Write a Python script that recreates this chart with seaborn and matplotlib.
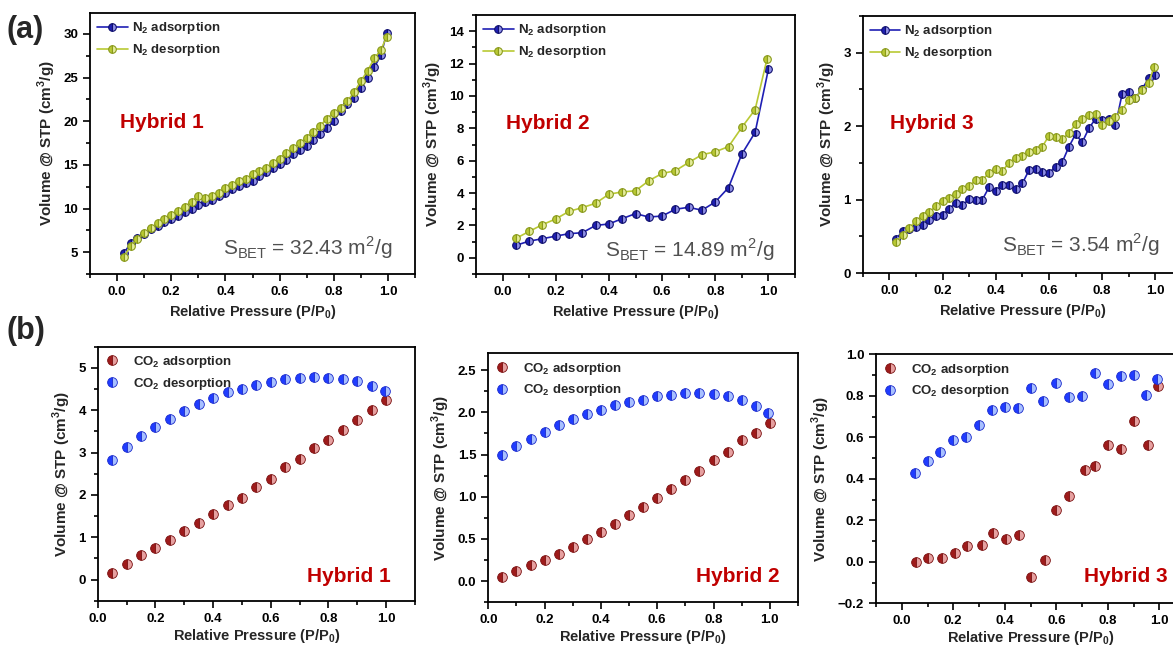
import numpy as np
import pandas as pd
import seaborn as sns
import matplotlib.pyplot as plt
from matplotlib.ticker import MultipleLocator

# ---- data ----
# (a) N2 isotherms
p_h1 = [0.025, 0.05, 0.075, 0.10, 0.125, 0.15, 0.175, 0.20, 0.225, 0.25,
        0.275, 0.30, 0.325, 0.35, 0.375, 0.40, 0.425, 0.45, 0.475, 0.50,
        0.525, 0.55, 0.575, 0.60, 0.625, 0.65, 0.675, 0.70, 0.725, 0.75,
        0.775, 0.80, 0.825, 0.85, 0.875, 0.90, 0.925, 0.95, 0.975, 0.995]
n2_ads_h1 = [4.9, 6.0, 6.6, 7.1, 7.6, 8.0, 8.4, 8.8, 9.2, 9.6,
             10.0, 10.4, 10.7, 11.0, 11.4, 11.8, 12.2, 12.6, 12.9, 13.2,
             13.7, 14.2, 14.6, 15.1, 15.6, 16.2, 16.7, 17.2, 17.9, 18.5,
             19.2, 20.0, 21.2, 22.0, 22.7, 23.8, 25.0, 26.2, 27.6, 30.1]
n2_des_h1 = [4.5, 5.7, 6.5, 7.2, 7.8, 8.3, 8.8, 9.3, 9.7, 10.2,
             10.8, 11.4, 11.2, 11.4, 11.8, 12.3, 12.7, 13.1, 13.4, 13.9,
             14.3, 14.7, 15.2, 15.7, 16.4, 16.9, 17.5, 18.1, 18.8, 19.5,
             20.3, 21.0, 21.5, 22.3, 23.3, 24.6, 25.8, 27.2, 28.2, 29.7]

p_h2_ads = [0.05, 0.10, 0.15, 0.20, 0.25, 0.30, 0.35, 0.40, 0.45, 0.50,
            0.55, 0.60, 0.65, 0.70, 0.75, 0.80, 0.85, 0.90, 0.95, 1.0]
n2_ads_h2 = [0.77, 1.03, 1.18, 1.34, 1.49, 1.55, 2.0, 2.09, 2.42, 2.73,
             2.52, 2.58, 3.0, 3.12, 2.94, 3.45, 4.34, 6.41, 7.75, 11.66]
p_h2_des = [0.05, 0.10, 0.15, 0.20, 0.25, 0.30, 0.35, 0.40, 0.45, 0.50,
            0.55, 0.60, 0.65, 0.70, 0.75, 0.80, 0.85, 0.90, 0.95, 0.995]
n2_des_h2 = [1.2, 1.63, 2.05, 2.4, 2.87, 3.1, 3.37, 3.93, 4.07, 4.14,
             4.76, 5.21, 5.38, 5.89, 6.37, 6.55, 6.87, 8.06, 9.16, 12.3]

p_h3_ads = [0.025, 0.05, 0.075, 0.10, 0.125, 0.15, 0.175, 0.20, 0.225, 0.25,
            0.275, 0.30, 0.325, 0.35, 0.375, 0.40, 0.425, 0.45, 0.475, 0.50,
            0.525, 0.55, 0.575, 0.60, 0.625, 0.65, 0.675, 0.70, 0.725, 0.75,
            0.775, 0.80, 0.825, 0.85, 0.875, 0.90, 0.925, 0.95, 0.975, 1.0]
n2_ads_h3 = [0.46, 0.57, 0.60, 0.62, 0.66, 0.72, 0.77, 0.79, 0.87, 0.96,
             0.92, 1.01, 1.0, 1.0, 1.17, 1.12, 1.20, 1.20, 1.14, 1.22,
             1.40, 1.42, 1.37, 1.36, 1.45, 1.51, 1.72, 1.89, 1.78, 1.97,
             2.10, 2.09, 2.10, 2.01, 2.44, 2.46, 2.38, 2.51, 2.65, 2.69]
p_h3_des = [0.025, 0.05, 0.075, 0.10, 0.125, 0.15, 0.175, 0.20, 0.225, 0.25,
            0.275, 0.30, 0.325, 0.35, 0.375, 0.40, 0.425, 0.45, 0.475, 0.50,
            0.525, 0.55, 0.575, 0.60, 0.625, 0.65, 0.675, 0.70, 0.725, 0.75,
            0.775, 0.80, 0.825, 0.85, 0.875, 0.90, 0.925, 0.95, 0.975, 0.995]
n2_des_h3 = [0.42, 0.52, 0.61, 0.71, 0.78, 0.83, 0.91, 0.98, 1.02, 1.08,
             1.15, 1.19, 1.26, 1.27, 1.36, 1.41, 1.39, 1.50, 1.57, 1.59,
             1.65, 1.68, 1.72, 1.87, 1.85, 1.83, 1.90, 2.03, 2.10, 2.15,
             2.16, 2.01, 2.07, 2.13, 2.22, 2.36, 2.39, 2.49, 2.59, 2.81]

# (b) CO2 isotherms
p_co2_ads = [0.05, 0.10, 0.15, 0.20, 0.25, 0.30, 0.35, 0.40, 0.45, 0.50,
             0.55, 0.60, 0.65, 0.70, 0.75, 0.80, 0.85, 0.90, 0.95, 1.0]
p_co2_des = [0.05, 0.10, 0.15, 0.20, 0.25, 0.30, 0.35, 0.40, 0.45, 0.50,
             0.55, 0.60, 0.65, 0.70, 0.75, 0.80, 0.85, 0.90, 0.95, 0.995]
co2_ads_h1 = [0.165, 0.37, 0.57, 0.75, 0.94, 1.14, 1.33, 1.54, 1.75, 1.93,
              2.19, 2.38, 2.65, 2.84, 3.11, 3.29, 3.54, 3.77, 4.0, 4.23]
co2_des_h1 = [2.83, 3.14, 3.38, 3.6, 3.8, 3.99, 4.14, 4.29, 4.42, 4.51,
              4.6, 4.67, 4.73, 4.75, 4.79, 4.76, 4.74, 4.68, 4.57, 4.45]
co2_ads_h2 = [0.055, 0.115, 0.186, 0.25, 0.32, 0.41, 0.50, 0.58, 0.68, 0.78,
              0.88, 0.99, 1.09, 1.2, 1.3, 1.43, 1.53, 1.67, 1.76, 1.88]
co2_des_h2 = [1.50, 1.60, 1.69, 1.77, 1.85, 1.92, 1.98, 2.03, 2.09, 2.12,
              2.15, 2.19, 2.21, 2.23, 2.23, 2.22, 2.19, 2.15, 2.08, 1.99]
p_h3_co2_ads = [0.055, 0.10, 0.155, 0.205, 0.255, 0.31, 0.355, 0.405, 0.455, 0.50,
                0.555, 0.60, 0.65, 0.71, 0.75, 0.80, 0.85, 0.90, 0.955, 0.995]
co2_ads_h3 = [0.0, 0.02, 0.018, 0.043, 0.075, 0.082, 0.141, 0.112, 0.128, -0.075,
              0.011, 0.25, 0.316, 0.442, 0.461, 0.562, 0.546, 0.678, 0.562, 0.848]
p_h3_co2_des = [0.05, 0.10, 0.15, 0.20, 0.25, 0.30, 0.35, 0.40, 0.45, 0.50,
                0.55, 0.60, 0.65, 0.70, 0.75, 0.80, 0.85, 0.90, 0.95, 0.99]
co2_des_h3 = [0.426, 0.487, 0.527, 0.586, 0.602, 0.659, 0.731, 0.747, 0.739, 0.839,
              0.776, 0.864, 0.795, 0.798, 0.908, 0.859, 0.895, 0.9, 0.803, 0.879]

sbet = ['32.43', '14.89', '3.54']
hybrids = ['Hybrid 1', 'Hybrid 2', 'Hybrid 3']

# ---- style ----
sns.set_style('ticks')
plt.rcParams['font.family'] = ['Liberation Sans', 'DejaVu Sans']
plt.rcParams['font.weight'] = 'bold'
plt.rcParams['mathtext.fontset'] = 'custom'
plt.rcParams['mathtext.rm'] = 'Liberation Sans'
plt.rcParams['mathtext.bf'] = 'Liberation Sans:bold'
plt.rcParams['axes.linewidth'] = 1.3

fig = plt.figure(figsize=(11.73, 6.47), dpi=100)
W, H = 1173, 647


def px_axes(left, top, right, bottom):
    return fig.add_axes([left / W, 1 - bottom / H, (right - left) / W, (bottom - top) / H])


def style_axes(ax, xlim, ylim, ymaj, xpad=4):
    ax.set_xlim(*xlim)
    ax.set_ylim(*ylim)
    ax.xaxis.set_major_locator(MultipleLocator(0.2))
    ax.xaxis.set_minor_locator(MultipleLocator(0.1))
    ax.yaxis.set_major_locator(MultipleLocator(ymaj))
    ax.yaxis.set_minor_locator(MultipleLocator(ymaj / 2))
    ax.tick_params(which='both', direction='out', width=1.2, colors='black',
                   labelsize=9.5, top=False, right=False)
    ax.tick_params(which='major', length=5)
    ax.tick_params(which='minor', length=3)
    for s in ax.spines.values():
        s.set_color('black')
        s.set_visible(True)
    for lab in ax.get_xticklabels() + ax.get_yticklabels():
        lab.set_fontweight('bold')
    ax.set_xlabel(r'Relative Pressure (P/P$_\mathbf{0}$)', fontsize=10.5,
                  fontweight='bold', labelpad=xpad)
    ax.set_ylabel(r'Volume @ STP (cm$^\mathbf{3}$/g)', fontsize=11,
                  fontweight='bold', labelpad=4)


ads_blue = '#1f1fb4'
des_green = '#b9c934'
co2_red = '#9e1b1b'
co2_blue = '#1f3cff'
title_red = '#c00000'

# ---- (a) N2 panels ----
a_boxes = [(90, 13, 415, 274), (476, 15, 795, 274), (862.7, 16, 1182, 273)]
a_lims = [(2.5, 32.4), (-1, 15), (0, 3.5)]
a_major = [5, 2, 1]
a_data = [(p_h1, n2_ads_h1, p_h1, n2_des_h1),
          (p_h2_ads, n2_ads_h2, p_h2_des, n2_des_h2),
          (p_h3_ads, n2_ads_h3, p_h3_des, n2_des_h3)]
a_hyb_pos = [(0.092, 0.582), (0.094, 0.583), (0.086, 0.58)]
a_sbet_pos = [(0.932, 0.10), (0.937, 0.093), (0.932, 0.109)]

for i in range(3):
    ax = px_axes(*a_boxes[i])
    xa, ya, xd, yd = a_data[i]
    sns.lineplot(x=xa, y=ya, ax=ax, color=ads_blue, linewidth=1.2, marker='o',
                 markersize=5.5, markeredgecolor='#10106e', markeredgewidth=0.8,
                 fillstyle='left', markerfacecoloralt='#8f8fe6',
                 sort=False, estimator=None, label=r'N$_\mathbf{2}$ adsorption')
    sns.lineplot(x=xd, y=yd, ax=ax, color=des_green, linewidth=1.2, marker='o',
                 markersize=5.5, markeredgecolor='#8a9a1c', markeredgewidth=0.8,
                 fillstyle='left', markerfacecoloralt='#e4ec9a',
                 sort=False, estimator=None, label=r'N$_\mathbf{2}$ desorption')
    style_axes(ax, (-0.1, 1.1), a_lims[i], a_major[i])
    ax.legend(loc='upper left', frameon=False, handlelength=2.3,
              handletextpad=0.3, labelspacing=0.45, borderaxespad=0.25,
              borderpad=0.3, prop={'weight': 'bold', 'size': 9.5})
    ax.text(*a_hyb_pos[i], hybrids[i], transform=ax.transAxes, color=title_red,
            fontsize=15, fontweight='bold', ha='left', va='center')
    ax.text(*a_sbet_pos[i], r'S$_\mathregular{BET}$ = ' + sbet[i] + r' m$^\mathregular{2}$/g',
            transform=ax.transAxes, color='#505050', fontsize=15,
            fontweight='normal', ha='right', va='center')

# ---- (b) CO2 panels ----
b_boxes = [(97.7, 346.7, 415, 600.7), (488.3, 353.3, 798, 602.3), (876, 354.3, 1185, 603.3)]
b_xlims = [(0, 1.1), (0, 1.1), (-0.1, 1.1)]
b_lims = [(-0.5, 5.5), (-0.25, 2.7), (-0.2, 1.0)]
b_major = [1, 0.5, 0.2]
b_data = [(p_co2_ads, co2_ads_h1, p_co2_des, co2_des_h1),
          (p_co2_ads, co2_ads_h2, p_co2_des, co2_des_h2),
          (p_h3_co2_ads, co2_ads_h3, p_h3_co2_des, co2_des_h3)]
b_hyb_pos = [(0.923, 0.094), (0.942, 0.103), (0.944, 0.107)]

for i in range(3):
    ax = px_axes(*b_boxes[i])
    xa, ya, xd, yd = b_data[i]
    sns.lineplot(x=xa, y=ya, ax=ax, color=co2_red, linestyle='', marker='o',
                 markersize=7, markeredgecolor='#7a1010', markeredgewidth=0.6,
                 fillstyle='left', markerfacecoloralt='#e6a0a0',
                 sort=False, estimator=None, label=r'CO$_\mathbf{2}$ adsorption')
    sns.lineplot(x=xd, y=yd, ax=ax, color=co2_blue, linestyle='', marker='o',
                 markersize=7, markeredgecolor='#1a2acc', markeredgewidth=0.6,
                 fillstyle='left', markerfacecoloralt='#a8c0ff',
                 sort=False, estimator=None, label=r'CO$_\mathbf{2}$ desorption')
    style_axes(ax, b_xlims[i], b_lims[i], b_major[i], xpad=1.5)
    ax.legend(loc='upper left', frameon=False, handlelength=1.0,
              handletextpad=1.1, labelspacing=0.45, borderaxespad=0.25,
              borderpad=0.3, prop={'weight': 'bold', 'size': 9.5})
    ax.text(*b_hyb_pos[i], hybrids[i], transform=ax.transAxes, color=title_red,
            fontsize=15, fontweight='bold', ha='right', va='center')

fig.text(6 / W, 1 - 30 / H, '(a)', fontsize=22, fontweight='bold', ha='left', va='center')
fig.text(6 / W, 1 - 331 / H, '(b)', fontsize=22, fontweight='bold', ha='left', va='center')

plt.savefig('out.png', dpi=100)
